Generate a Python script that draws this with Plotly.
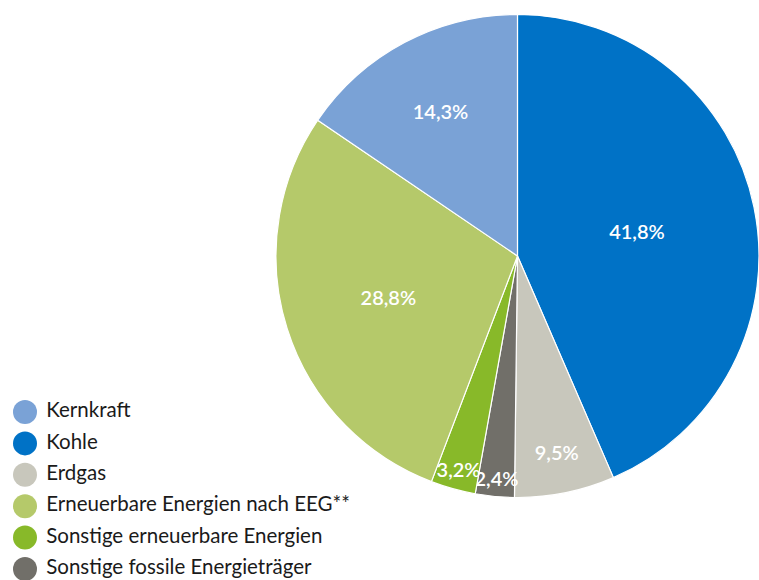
import plotly.graph_objects as go

# Slices clockwise from 12 o'clock
slice_names = ["Kohle", "Erdgas", "Sonstige fossile Energieträger",
               "Sonstige erneuerbare Energien", "Erneuerbare Energien nach EEG**", "Kernkraft"]
slice_share = [43.5, 6.7, 2.6, 3.0, 28.7, 15.5]          # angular share
slice_text = ["41,8%", "9,5%", "2,4%", "3,2%", "28,8%", "14,3%"]  # printed labels
slice_colors = ["#0072C6", "#C8C7BC", "#716F69", "#88B929", "#B5C96A", "#7AA2D6"]

# Legend order
legend_names = ["Kernkraft", "Kohle", "Erdgas", "Erneuerbare Energien nach EEG**",
                "Sonstige erneuerbare Energien", "Sonstige fossile Energieträger"]
legend_colors = ["#7AA2D6", "#0072C6", "#C8C7BC", "#B5C96A", "#88B929", "#716F69"]

FONT = "Lato"
NBSP = "\u00a0"

fig = go.Figure()
fig.add_trace(go.Pie(
    labels=slice_names, values=slice_share, text=slice_text,
    textinfo="text", textposition="inside", insidetextorientation="horizontal",
    sort=False, direction="clockwise", rotation=0,
    marker=dict(colors=slice_colors, line=dict(color="white", width=1.2)),
    textfont=dict(family=FONT, size=20, color="white", weight=600),
    domain=dict(x=[0.3636, 1.0], y=[0.1414, 0.9759]),
    showlegend=False, hoverinfo="label+text",
))

fig.add_trace(go.Scatter(
    x=[0] * len(legend_names), y=legend_names, mode="markers+text",
    marker=dict(size=24, color=legend_colors),
    text=[NBSP + n for n in legend_names], textposition="middle right",
    textfont=dict(family=FONT, size=20.5, color="#1a1a1a"),
    cliponaxis=False, showlegend=False, hoverinfo="skip",
))

fig.update_layout(
    width=759, height=580,
    margin=dict(l=0, r=0, t=0, b=0),
    paper_bgcolor="white", plot_bgcolor="rgba(0,0,0,0)",
    uniformtext=dict(minsize=20, mode="show"),
    xaxis=dict(domain=[0, 0.5], range=[-1, 14.18], visible=False, fixedrange=True),
    yaxis=dict(domain=[0, 0.3], type="category", categoryorder="array",
               categoryarray=legend_names, range=[5.35, -0.19],
               visible=False, fixedrange=True),
    font=dict(family=FONT),
)

fig.write_html("out.html", config={"displayModeBar": False},
               post_script="document.body.style.margin='0';")
